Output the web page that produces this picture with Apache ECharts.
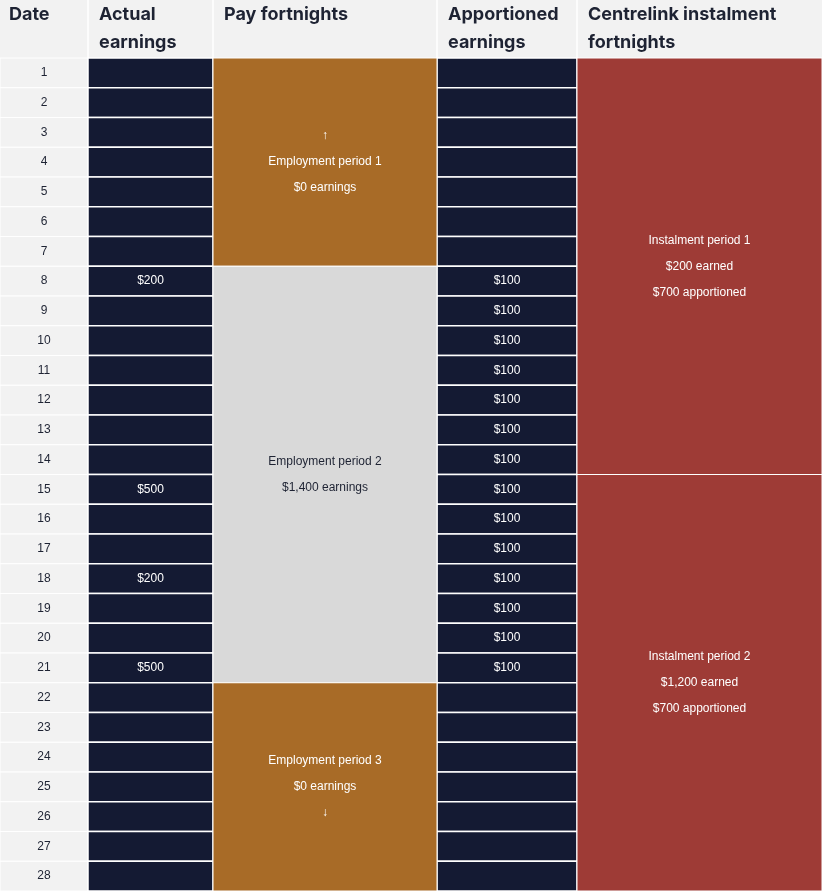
<!DOCTYPE html>
<html><head><meta charset="utf-8">
<script src="https://cdn.jsdelivr.net/npm/echarts@6/dist/echarts.min.js"></script>
<style>html,body{margin:0;padding:0;background:#f2f2f2}#c{width:822px;height:891px}</style>
</head><body><div id="c"></div>
<script>
const headers = ['Date', 'Actual\nearnings', 'Pay fortnights', 'Apportioned\nearnings', 'Centrelink instalment\nfortnights'];
const dates = [1,2,3,4,5,6,7,8,9,10,11,12,13,14,15,16,17,18,19,20,21,22,23,24,25,26,27,28];
const actualEarnings = ['','','','','','','','$200','','','','','','','$500','','','$200','','','$500','','','','','','',''];
const apportionedEarnings = ['','','','','','','','$100','$100','$100','$100','$100','$100','$100','$100','$100','$100','$100','$100','$100','$100','','','','','','',''];
const payPeriods = [
  {from:1, to:7, label:'↑\nEmployment period 1\n$0 earnings', kind:'zero'},
  {from:8, to:21, label:'Employment period 2\n$1,400 earnings', kind:'paid'},
  {from:22, to:28, label:'Employment period 3\n$0 earnings\n↓', kind:'zero'}
];
const instalments = [
  {from:1, to:14, label:'Instalment period 1\n$200 earned\n$700 apportioned'},
  {from:15, to:28, label:'Instalment period 2\n$1,200 earned\n$700 apportioned'}
];
const colEdges = [0, 88, 213, 437, 577, 822];
const FONT = 'Inter, "Noto Sans", sans-serif';
const NAVY = '#141a33', ORANGE = '#a86b27', GRAY = '#d9d9d9', RED = '#9e3b36', BG = '#f2f2f2';

const chart = echarts.init(document.getElementById('c'));
// row cells: [colIndex, date, text]
const rowData = [];
dates.forEach((d, i) => {
  rowData.push([0, d, String(d)]);
  rowData.push([1, d, actualEarnings[i]]);
  rowData.push([3, d, apportionedEarnings[i]]);
});
function blockItem(api, col, from, to, fill, label, textFill) {
  const p0 = api.coord([colEdges[col], from - 1]);
  const p1 = api.coord([colEdges[col + 1], to]);
  return {
    type: 'rect',
    shape: {x: p0[0], y: p0[1], width: p1[0] - p0[0], height: p1[1] - p0[1]},
    style: {fill: fill, stroke: '#ffffff', lineWidth: 1,
      text: label, textFill: textFill, font: '17px ' + FONT, textLineHeight: 26,
      textPosition: 'inside', textAlign: 'center', textVerticalAlign: 'middle'}
  };
}
const header = headers.map((h, i) => ({
  type: 'text', left: colEdges[i] + (i === 0 ? 9 : 11), top: 1,
  style: {text: h, font: 'bold 18px ' + FONT, fill: '#1e2333', lineHeight: 28}
}));
const headerLines = colEdges.slice(1, -1).map(x => ({
  type: 'line', shape: {x1: x, y1: 0, x2: x, y2: 58}, style: {stroke: '#ffffff', lineWidth: 1.5}
}));
chart.setOption({
  animation: false,
  backgroundColor: BG,
  grid: {left: 0, right: 0, top: 58, bottom: 0},
  xAxis: {type: 'value', min: 0, max: 822, show: false},
  yAxis: {type: 'value', min: 0, max: 28, inverse: true, show: false},
  graphic: header.concat(headerLines),
  series: [
    {
      type: 'custom', data: rowData,
      renderItem: (params, api) => {
        const col = api.value(0), d = api.value(1);
        const txt = rowData[params.dataIndex][2];
        const p0 = api.coord([colEdges[col], d - 1]);
        const p1 = api.coord([colEdges[col + 1], d]);
        const dark = col !== 0;
        return {
          type: 'rect',
          shape: {x: p0[0], y: p0[1], width: p1[0] - p0[0], height: p1[1] - p0[1]},
          style: {fill: dark ? NAVY : BG, stroke: '#ffffff', lineWidth: dark ? 1.5 : 1,
            text: txt, textFill: dark ? '#ffffff' : '#1e2333', font: '17px ' + FONT,
            textPosition: 'inside', textAlign: 'center', textVerticalAlign: 'middle'}
        };
      }
    },
    {
      type: 'custom', data: payPeriods.map(p => [p.from, p.to]),
      renderItem: (params, api) => {
        const p = payPeriods[params.dataIndex];
        return blockItem(api, 2, api.value(0), api.value(1), p.kind === 'zero' ? ORANGE : GRAY,
          p.label, p.kind === 'zero' ? '#ffffff' : '#1e2333');
      }
    },
    {
      type: 'custom', data: instalments.map(p => [p.from, p.to]),
      renderItem: (params, api) => blockItem(api, 4, api.value(0), api.value(1), RED,
        instalments[params.dataIndex].label, '#ffffff')
    }
  ]
});
</script></body></html>
